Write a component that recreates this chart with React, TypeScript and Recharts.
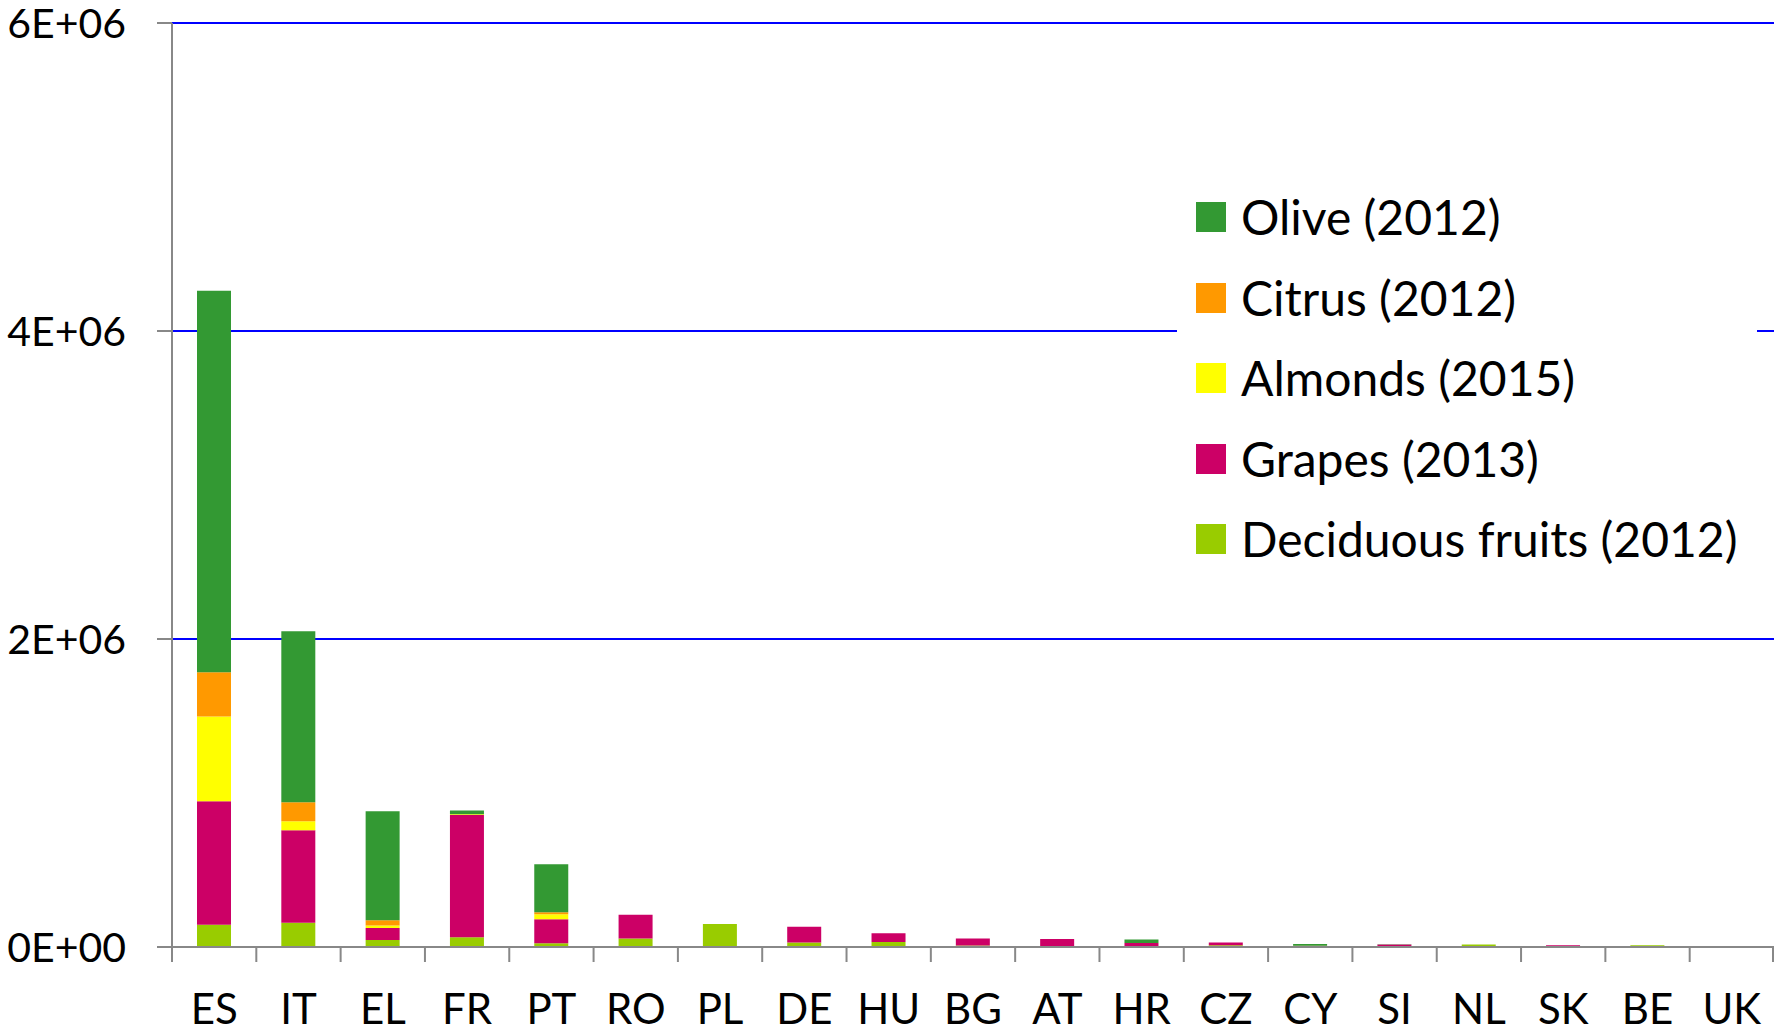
import React from 'react';
import { BarChart, Bar, XAxis, YAxis, CartesianGrid } from 'recharts';

const categories = ['ES', 'IT', 'EL', 'FR', 'PT', 'RO', 'PL', 'DE', 'HU', 'BG', 'AT', 'HR', 'CZ', 'CY', 'SI', 'NL', 'SK', 'BE', 'UK'];
const deciduous = [145000, 158000, 45000, 63000, 24000, 56000, 149000, 30000, 32000, 9000, 5000, 3000, 11000, 5000, 2000, 17000, 2000, 11000, 4000];
const grapes = [801000, 600000, 78000, 794000, 156000, 154000, 0, 102000, 57000, 46000, 47000, 23000, 18000, 0, 15000, 0, 9000, 0, 1000];
const almonds = [550000, 58000, 16000, 5000, 32000, 0, 0, 0, 0, 0, 0, 0, 0, 0, 0, 0, 0, 0, 0];
const citrus = [288000, 124000, 34000, 0, 13000, 0, 0, 0, 0, 0, 0, 0, 0, 3000, 0, 0, 0, 0, 0];
const olive = [2478000, 1110000, 708000, 24000, 312000, 0, 0, 0, 0, 0, 0, 22000, 0, 12000, 1000, 0, 0, 0, 0];
const yTicks = [0, 2000000, 4000000, 6000000];
const yTickLabels = ['0E+00', '2E+06', '4E+06', '6E+06'];

const series = [
  { key: 'deciduous', name: 'Deciduous fruits (2012)', color: '#99CC00', values: deciduous },
  { key: 'grapes', name: 'Grapes (2013)', color: '#CC0066', values: grapes },
  { key: 'almonds', name: 'Almonds (2015)', color: '#FFFF00', values: almonds },
  { key: 'citrus', name: 'Citrus (2012)', color: '#FF9900', values: citrus },
  { key: 'olive', name: 'Olive (2012)', color: '#339933', values: olive },
];

const data = categories.map((c, i) => {
  const row: any = { name: c };
  series.forEach((s) => { row[s.key] = s.values[i]; });
  return row;
});

const W = 1774;
const H = 1029;
const Y_AXIS_W = 172;
const X_AXIS_H = 82;
const BAND = (W - Y_AXIS_W) / categories.length;
const FONT = 'Lato, "Noto Sans", sans-serif';

const XTick = (props: any) => {
  const { x, y, payload, index } = props;
  const isLast = index === categories.length - 1;
  return (
    <g>
      <line x1={x - BAND / 2} x2={x - BAND / 2} y1={y} y2={y + 15} stroke="#888888" strokeWidth={2} />
      {isLast && <line x1={x + BAND / 2 - 1} x2={x + BAND / 2 - 1} y1={y} y2={y + 15} stroke="#888888" strokeWidth={2} />}
      <text x={x} y={y + 77} textAnchor="middle" fill="#000" fontSize={42} fontFamily={FONT}>{payload.value}</text>
    </g>
  );
};

const YTick = (props: any) => {
  const { x, y, payload } = props;
  const idx = yTicks.indexOf(payload.value);
  return (
    <text x={x} y={y} dy="0.36em" textAnchor="end" fill="#000" fontSize={41} fontFamily={FONT}>
      {idx >= 0 ? yTickLabels[idx] : payload.value}
    </text>
  );
};

const legendOrder = ['olive', 'citrus', 'almonds', 'grapes', 'deciduous'];

const LegendBox = () => (
  <div style={{ position: 'absolute', left: 1177, top: 175, background: '#fff', width: 580, height: 400, fontFamily: FONT }}>
    {legendOrder.map((k, i) => {
      const s = series.find((z) => z.key === k)!;
      return (
        <div key={k} style={{ position: 'absolute', left: 19, top: 27 + i * 80.5, height: 30, display: 'flex', alignItems: 'center' }}>
          <div style={{ width: 30, height: 30, background: s.color }} />
          <span style={{ marginLeft: 15, fontSize: 48, color: '#000', whiteSpace: 'nowrap', lineHeight: '30px' }}>{s.name}</span>
        </div>
      );
    })}
  </div>
);

export default function App() {
  return (
    <div style={{ position: 'absolute', left: 0, top: 0, width: W, height: H, background: '#fff' }}>
      <BarChart width={W} height={H} data={data} margin={{ top: 23, right: 0, left: 0, bottom: 0 }} barSize={34}>
        <CartesianGrid horizontal vertical={false} stroke="#0000FF" strokeWidth={2} />
        <XAxis
          dataKey="name"
          height={X_AXIS_H}
          tick={<XTick />}
          tickLine={false}
          tickSize={0}
          tickMargin={0}
          axisLine={{ stroke: '#888888', strokeWidth: 2 }}
          interval={0}
        />
        <YAxis
          width={Y_AXIS_W}
          domain={[0, 6000000]}
          ticks={yTicks}
          tick={<YTick />}
          tickSize={15}
          tickMargin={31}
          tickLine={{ stroke: '#888888', strokeWidth: 2 }}
          axisLine={{ stroke: '#888888', strokeWidth: 2 }}
          allowDataOverflow
        />
        {series.map((s) => (
          <Bar key={s.key} dataKey={s.key} name={s.name} stackId="a" fill={s.color} isAnimationActive={false} />
        ))}
      </BarChart>
      <LegendBox />
    </div>
  );
}
